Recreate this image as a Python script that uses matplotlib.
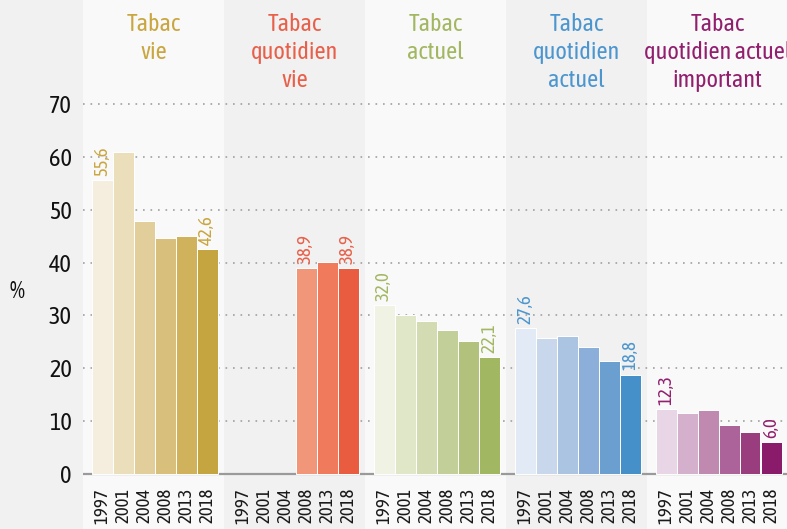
import numpy as np
import matplotlib
matplotlib.use('Agg')
import matplotlib.pyplot as plt
import matplotlib.transforms as mtransforms

plt.rcParams['font.family'] = ['Asap Condensed', 'PT Sans Narrow', 'Roboto Condensed', 'DejaVu Sans']

# Data
years = ['1997', '2001', '2004', '2008', '2013', '2018']
titles = ['Tabac\nvie', 'Tabac\nquotidien\nvie', 'Tabac\nactuel',
          'Tabac\nquotidien\nactuel', 'Tabac\nquotidien actuel\nimportant']
tabac_vie = [55.6, 61.0, 47.9, 44.6, 45.0, 42.6]
tabac_quot_vie = [np.nan, np.nan, np.nan, 38.9, 40.1, 38.9]
tabac_actuel = [32.0, 30.1, 28.9, 27.2, 25.2, 22.1]
tabac_quot_actuel = [27.6, 25.7, 26.1, 24.0, 21.4, 18.8]
tabac_quot_important = [12.3, 11.5, 12.1, 9.3, 8.0, 6.0]
series = [tabac_vie, tabac_quot_vie, tabac_actuel, tabac_quot_actuel, tabac_quot_important]

title_colors = ['#C9A640', '#E8604A', '#A2B762', '#4C96CF', '#921F6E']
bar_colors = [
    ['#F5EEDF', '#EBDFBB', '#E2CE9A', '#D8C07C', '#D0B15C', '#C5A540'],
    ['#F5EEDF', '#EBDFBB', '#E2CE9A', '#F2967A', '#EF7A5C', '#E95C40'],
    ['#F0F2E4', '#E0E6C8', '#D2DBB2', '#C3CF98', '#B2C27C', '#A2B762'],
    ['#E2EAF5', '#C8D7EC', '#AAC4E2', '#8BAFD9', '#6A9FD0', '#4590C8'],
    ['#E8D5E5', '#D4B0CC', '#C089B0', '#AB6399', '#9A3D7F', '#8A1B6A'],
]
panel_bg = ['#F9F9F9', '#F1F1F1', '#F9F9F9', '#F1F1F1', '#F9F9F9']

W, H = 787, 529
fig = plt.figure(figsize=(W / 100, H / 100), dpi=100, facecolor='#F1F1F1')
ax = fig.add_axes([83 / W, 0, 704 / W, 1])

slot = 21.0            # px per bar slot
stride = 141.0 / slot  # group stride in slots
first = 19.0 / slot    # first bar center offset inside a panel
ax.set_xlim(0, 704 / slot)
ppu = (474 - 104) / 70.0
ax.set_ylim(-(H - 474) / ppu, 70 + 104 / ppu)

label_tr = mtransforms.offset_copy(ax.transData, fig=fig, y=3, units='points')
year_tr = mtransforms.offset_copy(ax.transData, fig=fig, y=-10, units='points')
title_tr = mtransforms.blended_transform_factory(ax.transData, ax.transAxes)

for k, vals in enumerate(series):
    x0 = k * stride
    ax.axvspan(x0, x0 + stride, color=panel_bg[k], zorder=0, lw=0)
    xs = x0 + first + np.arange(len(years))
    vals = np.array(vals, dtype=float)
    ok = ~np.isnan(vals)
    ax.bar(xs[ok], vals[ok], width=1.0, color=np.array(bar_colors[k])[ok],
           edgecolor='white', linewidth=0.7, zorder=3)
    for x, yr in zip(xs, years):
        ax.text(x, 0, yr, transform=year_tr, rotation=90, ha='center', va='top',
                fontsize=13.5, color='#1a1a1a')
    idx = np.where(ok)[0]
    for i in (idx[0], idx[-1]):
        ax.text(xs[i], vals[i], f'{vals[i]:.1f}'.replace('.', ','), transform=label_tr,
                rotation=90, ha='center', va='bottom', fontsize=13.5, color=title_colors[k])
    ax.text(x0 + stride / 2, 1 - 13 / H, titles[k], transform=title_tr, ha='center', va='top',
            fontsize=17.5, color=title_colors[k], linespacing=1.27)

ax.set_yticks(range(0, 80, 10))
ax.tick_params(axis='y', length=0, pad=8, labelsize=17.5, labelcolor='#111111')
ax.tick_params(axis='x', bottom=False, labelbottom=False)
ax.yaxis.grid(True, linestyle=(0, (1, 3.5)), color='#a0a0a0', linewidth=1.2, zorder=1)
ax.set_axisbelow(True)
ax.axhline(0, color='#9a9a9a', linewidth=1.6, zorder=2)
for s in ax.spines.values():
    s.set_visible(False)

fig.text(17 / W, 1 - 292 / H, '%', fontsize=17.5, ha='center', va='center', color='#111111')

fig.savefig('out.png', dpi=100, facecolor=fig.get_facecolor())
